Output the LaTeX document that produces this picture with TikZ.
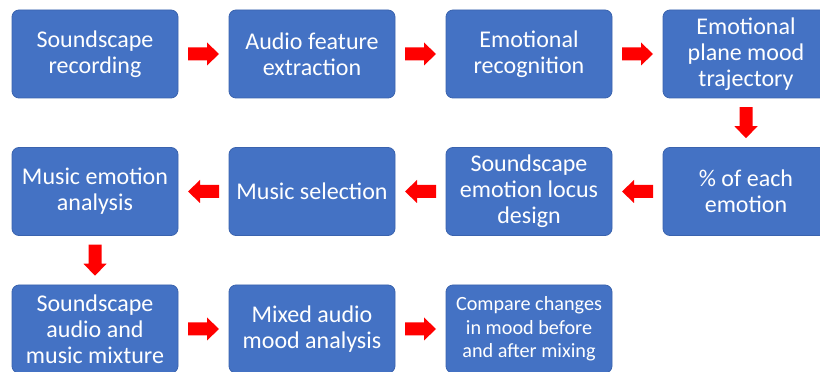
\documentclass[tikz,border=0pt]{standalone}
\usepackage{fontspec}
\setmainfont{Carlito}
\usetikzlibrary{calc}
\definecolor{boxblue}{HTML}{4472C4}
\definecolor{boxline}{HTML}{3A63AE}
\definecolor{arrowred}{HTML}{FF0000}
\newcommand\redarrow[2]{%
  \fill[arrowred, shift={(#1)}, rotate=#2]
    (-15.5,-6.5) -- (3.5,-6.5) -- (3.5,-11.5) -- (15.5,0) -- (3.5,11.5) -- (3.5,6.5) -- (-15.5,6.5) -- cycle;}
\begin{document}
\begin{tikzpicture}[x=1pt,y=1pt,
  stepbox/.style={draw=boxline, line width=0.8pt, fill=boxblue, rounded corners=7pt,
    minimum width=166pt, minimum height=88pt, inner sep=0pt, align=center,
    text=white, font=\fontsize{24}{26}\selectfont},
  smallbox/.style={stepbox, font=\fontsize{20.2}{23.5}\selectfont}]
\useasboundingbox (0,0) rectangle (820,372);
\clip (0,0) rectangle (820,372);
% row 1
\node[stepbox] (a) at (95,318) {Soundscape\\recording};
\node[stepbox] (b) at (312,318) {Audio feature\\extraction};
\node[stepbox] (c) at (529,318) {Emotional\\recognition};
\node[stepbox] (d) at (746,318) {Emotional\\plane mood\\trajectory};
% row 2
\node[stepbox] (e) at (746,180.5) {\% of each\\emotion};
\node[stepbox] (f) at (529,180.5) {Soundscape\\emotion locus\\design};
\node[stepbox] (g) at (312,180.5) {Music selection};
\node[stepbox] (h) at (95,180.5) {Music emotion\\analysis};
% row 3
\node[stepbox] (i) at (95,43) {Soundscape\\audio and\\music mixture};
\node[stepbox] (j) at (312,43) {Mixed audio\\mood analysis};
\node[smallbox] (k) at (529,43) {Compare changes\\in mood before\\and after mixing};
% arrows
\redarrow{$(a.east)!0.5!(b.west)$}{0}
\redarrow{$(b.east)!0.5!(c.west)$}{0}
\redarrow{$(c.east)!0.5!(d.west)$}{0}
\redarrow{$(d.south)!0.5!(e.north)$}{-90}
\redarrow{$(e.west)!0.5!(f.east)$}{180}
\redarrow{$(f.west)!0.5!(g.east)$}{180}
\redarrow{$(g.west)!0.5!(h.east)$}{180}
\redarrow{$(h.south)!0.5!(i.north)$}{-90}
\redarrow{$(i.east)!0.5!(j.west)$}{0}
\redarrow{$(j.east)!0.5!(k.west)$}{0}
\end{tikzpicture}
\end{document}
